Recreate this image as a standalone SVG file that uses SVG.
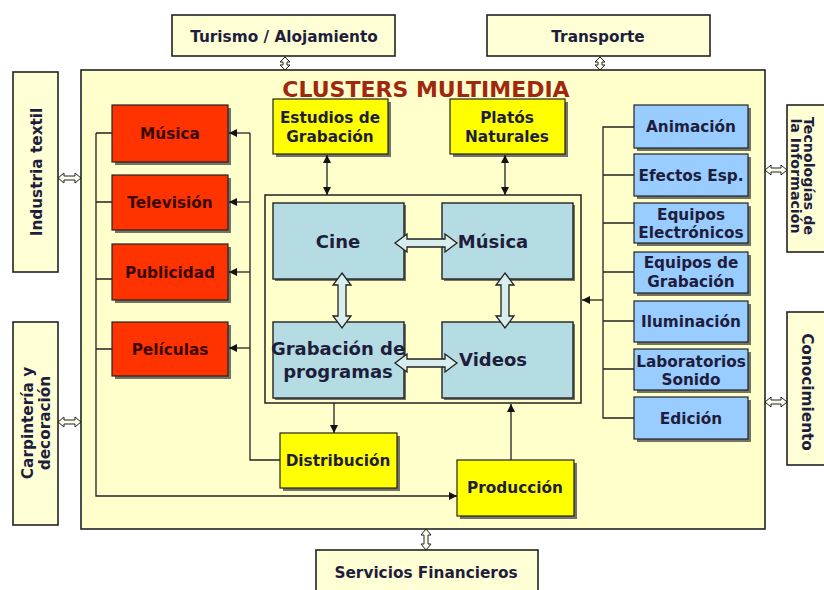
<svg xmlns="http://www.w3.org/2000/svg" width="824" height="590" viewBox="0 0 824 590">
<style>
text{font-family:"DejaVu Sans","Verdana",sans-serif;font-weight:bold;text-anchor:middle;fill:#1e1e3c}
.t13{font-size:15.3px}
.t12{font-size:14.2px}
.t16{font-size:18px}
.red text{fill:#3a0800}
.outer{fill:#FFFFD6;stroke:#222;stroke-width:1.6}
.main{fill:#FFFFCC;stroke:#222;stroke-width:1.6}
.shadow{fill:#444;opacity:.75}
.r{fill:#FF3300;stroke:#222;stroke-width:1.2}
.y{fill:#FFFF00;stroke:#222;stroke-width:1.2}
.b{fill:#99CCFF;stroke:#222;stroke-width:1.2}
.c{fill:#B4DCE2;stroke:#222;stroke-width:1.4}
.ln{fill:none;stroke:#222;stroke-width:1.3}
.blk{fill:#D8EEEE;stroke:#222;stroke-width:1.3}
.sm{fill:#FFFFF0;stroke:#222;stroke-width:1}
</style>
<defs>
<marker id="ah" viewBox="0 0 10 10" refX="10" refY="5" markerWidth="8" markerHeight="8" markerUnits="userSpaceOnUse" orient="auto-start-reverse">
<path d="M0,0 L10,5 L0,10 Z" fill="#111"/>
</marker>
</defs>
<rect width="824" height="590" fill="#fff"/>

<g id="main-cluster">
<rect class="main" x="81" y="70" width="684" height="459"/>
<text x="426" y="97" style="font-size:22px;fill:#A0280F">CLUSTERS MULTIMEDIA</text>
</g>

<g id="turismo"><rect class="outer" x="172" y="15" width="223" height="41"/><text class="t13" x="284" y="42">Turismo / Alojamiento</text></g>
<g id="transporte"><rect class="outer" x="487" y="15" width="223" height="41"/><text class="t13" x="598" y="42">Transporte</text></g>
<g id="industria"><rect class="outer" x="13" y="72" width="45" height="200"/><text class="t13" transform="translate(42,172) rotate(-90)">Industria textil</text></g>
<g id="carpinteria"><rect class="outer" x="13" y="322" width="45" height="203"/><text class="t13" transform="translate(35,423) rotate(-90)"><tspan x="0" y="-2">Carpintería y</tspan><tspan x="0" y="15">decoración</tspan></text></g>
<g id="tecnologias"><rect class="outer" x="787" y="105" width="45" height="147"/><text class="t12" transform="translate(804,176) rotate(90)"><tspan x="0" y="0">Tecnologías de</tspan><tspan x="0" y="13">la Información</tspan></text></g>
<g id="conocimiento"><rect class="outer" x="787" y="312" width="45" height="153"/><text class="t13" transform="translate(802,392) rotate(90)">Conocimiento</text></g>
<g id="servicios"><rect class="outer" x="316" y="550" width="222" height="50"/><text class="t13" x="426" y="578">Servicios Financieros</text></g>

<g id="red-musica" class="red"><rect class="shadow" x="115" y="108" width="116" height="57"/><rect class="r" x="112" y="105" width="116" height="57"/><text class="t13" x="170" y="139">Música</text></g>
<g id="red-television" class="red"><rect class="shadow" x="115" y="178" width="116" height="55"/><rect class="r" x="112" y="175" width="116" height="55"/><text class="t13" x="170" y="208">Televisión</text></g>
<g id="red-publicidad" class="red"><rect class="shadow" x="115" y="247" width="116" height="56"/><rect class="r" x="112" y="244" width="116" height="56"/><text class="t13" x="170" y="278">Publicidad</text></g>
<g id="red-peliculas" class="red"><rect class="shadow" x="115" y="325" width="116" height="54"/><rect class="r" x="112" y="322" width="116" height="54"/><text class="t13" x="170" y="355">Películas</text></g>

<g id="estudios"><rect class="shadow" x="276" y="102" width="115" height="55"/><rect class="y" x="273" y="99" width="115" height="55"/><text class="t13" x="330" y="123">Estudios de</text><text class="t13" x="330" y="142">Grabación</text></g>
<g id="platos"><rect class="shadow" x="453" y="102" width="115" height="55"/><rect class="y" x="450" y="99" width="115" height="55"/><text class="t13" x="507" y="123">Platós</text><text class="t13" x="507" y="142">Naturales</text></g>
<g id="distribucion"><rect class="shadow" x="283" y="436" width="117" height="55"/><rect class="y" x="280" y="433" width="117" height="55"/><text class="t13" x="338" y="466">Distribución</text></g>
<g id="produccion"><rect class="shadow" x="460" y="463" width="117" height="56"/><rect class="y" x="457" y="460" width="117" height="56"/><text class="t13" x="515" y="493">Producción</text></g>

<g id="core">
<rect fill="none" stroke="#222" stroke-width="1.5" x="265" y="195" width="316" height="208"/>
</g>
<g id="cine"><rect class="shadow" x="275" y="205" width="131" height="76"/><rect class="c" x="273" y="203" width="131" height="76"/><text class="t16" x="338" y="248">Cine</text></g>
<g id="musica"><rect class="shadow" x="444" y="205" width="131" height="76"/><rect class="c" x="442" y="203" width="131" height="76"/><text class="t16" x="493" y="248">Música</text></g>
<g id="grabacion"><rect class="shadow" x="275" y="324" width="131" height="76"/><rect class="c" x="273" y="322" width="131" height="76"/><text class="t16" x="338" y="355">Grabación de</text><text class="t16" x="338" y="378">programas</text></g>
<g id="videos"><rect class="shadow" x="444" y="324" width="131" height="76"/><rect class="c" x="442" y="322" width="131" height="76"/><text class="t16" x="493" y="366">Videos</text></g>

<g id="blue-animacion"><rect class="shadow" x="637" y="108" width="114" height="43"/><rect class="b" x="634" y="105" width="114" height="43"/><text class="t13" x="691" y="132">Animación</text></g>
<g id="blue-efectos"><rect class="shadow" x="637" y="157" width="114" height="42"/><rect class="b" x="634" y="154" width="114" height="42"/><text class="t13" x="691" y="181">Efectos Esp.</text></g>
<g id="blue-electronicos"><rect class="shadow" x="637" y="206" width="114" height="40"/><rect class="b" x="634" y="203" width="114" height="40"/><text class="t13" x="691" y="220">Equipos</text><text class="t13" x="691" y="238">Electrónicos</text></g>
<g id="blue-grabacion"><rect class="shadow" x="637" y="255" width="114" height="41"/><rect class="b" x="634" y="252" width="114" height="41"/><text class="t13" x="691" y="268">Equipos de</text><text class="t13" x="691" y="287">Grabación</text></g>
<g id="blue-iluminacion"><rect class="shadow" x="637" y="304" width="114" height="41"/><rect class="b" x="634" y="301" width="114" height="41"/><text class="t13" x="691" y="327">Iluminación</text></g>
<g id="blue-laboratorios"><rect class="shadow" x="637" y="352" width="114" height="41"/><rect class="b" x="634" y="349" width="114" height="41"/><text class="t13" x="691" y="367">Laboratorios</text><text class="t13" x="691" y="385">Sonido</text></g>
<g id="blue-edicion"><rect class="shadow" x="637" y="400" width="114" height="42"/><rect class="b" x="634" y="397" width="114" height="42"/><text class="t13" x="691" y="424">Edición</text></g>

<g id="connectors">
<path class="blk" d="M395,243 L407,234 L407,239 L445,239 L445,234 L457,243 L445,252 L445,247 L407,247 L407,252 Z"/>
<path class="blk" d="M395,363 L407,354 L407,359 L445,359 L445,354 L457,363 L445,372 L445,367 L407,367 L407,372 Z"/>
<path class="blk" d="M342,273 L351,285 L346,285 L346,316 L351,316 L342,328 L333,316 L338,316 L338,285 L333,285 Z"/>
<path class="blk" d="M505,273 L514,285 L509,285 L509,316 L514,316 L505,328 L496,316 L501,316 L501,285 L496,285 Z"/>
<path class="sm" d="M285,57 L290,62 L287,62 L287,65 L290,65 L285,70 L280,65 L283,65 L283,62 L280,62 Z"/>
<path class="sm" d="M600,57 L605,62 L602,62 L602,65 L605,65 L600,70 L595,65 L598,65 L598,62 L595,62 Z"/>
<path class="sm" d="M426,529 L431,535 L428,535 L428,544 L431,544 L426,550 L421,544 L424,544 L424,535 L421,535 Z"/>
<path class="sm" d="M58,178 L64,173 L64,176 L75,176 L75,173 L81,178 L75,183 L75,180 L64,180 L64,183 Z"/>
<path class="sm" d="M58,422 L64,417 L64,420 L75,420 L75,417 L81,422 L75,427 L75,424 L64,424 L64,427 Z"/>
<path class="sm" d="M765,170 L771,165 L771,168 L781,168 L781,165 L787,170 L781,175 L781,172 L771,172 L771,175 Z"/>
<path class="sm" d="M765,402 L771,397 L771,400 L781,400 L781,397 L787,402 L781,407 L781,404 L771,404 L771,407 Z"/>
<line class="ln" x1="327" y1="155" x2="327" y2="195" marker-start="url(#ah)" marker-end="url(#ah)"/>
<line class="ln" x1="505" y1="155" x2="505" y2="195" marker-start="url(#ah)" marker-end="url(#ah)"/>
<path class="ln" d="M634,127 H603 V418 H634 M603,175 H634 M603,223 H634 M603,272 H634 M603,321 H634 M603,369 H634"/>
<line class="ln" x1="603" y1="300" x2="582" y2="300" marker-end="url(#ah)"/>
<path class="ln" d="M112,133 H96 M112,202 H96 M112,279 H96 M112,349 H96"/>
<path class="ln" d="M96,133 V496 H457" marker-end="url(#ah)"/>
<path class="ln" d="M280,460 H250 V133"/>
<line class="ln" x1="250" y1="133" x2="229" y2="133" marker-end="url(#ah)"/>
<line class="ln" x1="250" y1="202" x2="229" y2="202" marker-end="url(#ah)"/>
<line class="ln" x1="250" y1="272" x2="229" y2="272" marker-end="url(#ah)"/>
<line class="ln" x1="250" y1="348" x2="229" y2="348" marker-end="url(#ah)"/>
<line class="ln" x1="334" y1="403" x2="334" y2="433" marker-end="url(#ah)"/>
<line class="ln" x1="511" y1="460" x2="511" y2="404" marker-end="url(#ah)"/>
</g>
</svg>
